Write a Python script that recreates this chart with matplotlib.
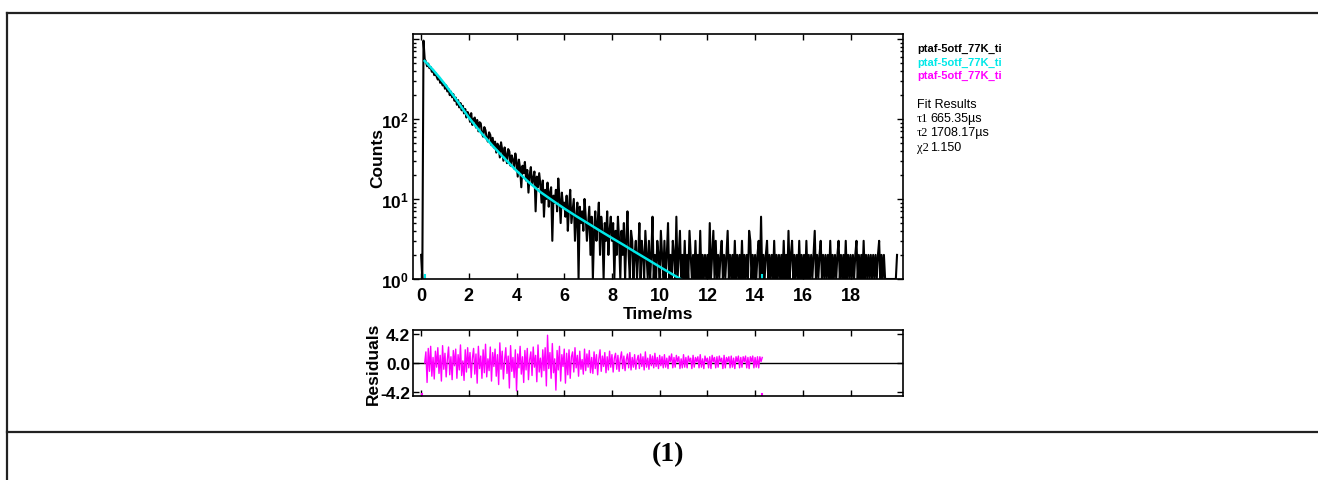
import numpy as np
import matplotlib
matplotlib.use("Agg")
from matplotlib import pyplot as plt
from matplotlib.lines import Line2D

plt.rcParams['font.family'] = ['Liberation Sans', 'DejaVu Sans']
plt.rcParams['mathtext.fontset'] = 'custom'
plt.rcParams['mathtext.rm'] = 'Liberation Sans:bold'
plt.rcParams['mathtext.default'] = 'rm'

# decay histogram, one bin every 0.05 ms (counts)
bin_width = 0.05
counts = [
    2, 1, 950, 560, 520, 455, 490, 430, 445, 388, 410, 352, 376, 338, 310, 334, 282, 300, 262, 279,
    238, 262, 220, 236, 198, 219, 186, 204, 168, 185, 150, 172, 139, 158, 128, 146, 117, 133, 104, 122,
    112, 92, 118, 84, 99, 104, 78, 97, 70, 91, 88, 66, 60, 79, 72, 57, 52, 68, 63, 47,
    58, 44, 52, 38, 49, 46, 33, 51, 41, 30, 44, 36, 28, 42, 39, 26, 35, 31, 24, 37,
    29, 19, 31, 24, 14, 26, 21, 29, 17, 23, 12, 20, 25, 15, 18, 22, 7, 19, 14, 21,
    15, 9, 17, 6, 13, 10, 16, 8, 12, 14, 3, 11, 9, 13, 7, 18, 10, 5, 12, 8,
    9, 6, 11, 4, 8, 13, 5, 7, 10, 3, 6, 9, 1, 8, 5, 7, 4, 10, 6, 3,
    5, 8, 2, 6, 1, 4, 7, 3, 5, 9, 2, 6, 4, 1, 5, 3, 7, 2, 4, 6,
    3, 5, 1, 4, 2, 6, 3, 1, 4, 2, 5, 1, 3, 7, 2, 1, 4, 3, 1, 2,
    3, 1, 2, 5, 1, 3, 2, 1, 4, 2, 1, 3, 1, 2, 6, 1, 2, 1, 3, 2,
    1, 4, 2, 1, 3, 1, 2, 5, 1, 2, 1, 3, 2, 1, 6, 1, 2, 4, 1, 2,
    1, 3, 1, 2, 1, 4, 2, 1, 2, 1, 3, 1, 2, 1, 4, 1, 2, 1, 2, 1,
    2, 1, 5, 1, 2, 4, 1, 3, 1, 2, 1, 2, 3, 1, 2, 1, 2, 4, 1, 2,
    1, 2, 1, 3, 1, 2, 1, 2, 1, 3, 1, 2, 1, 2, 1, 4, 3, 1, 2, 1,
    2, 1, 2, 3, 1, 6, 1, 2, 1, 2, 3, 1, 2, 1, 2, 1, 3, 1, 2, 1,
    2, 1, 2, 1, 3, 1, 2, 1, 4, 1, 2, 3, 1, 2, 1, 2, 1, 3, 1, 2,
    1, 2, 1, 3, 1, 2, 1, 2, 1, 2, 4, 1, 2, 1, 2, 3, 1, 2, 1, 2,
    1, 2, 1, 3, 1, 2, 1, 2, 1, 2, 3, 1, 2, 1, 2, 1, 3, 1, 2, 1,
    2, 1, 2, 1, 2, 3, 1, 2, 1, 2, 1, 3, 1, 2, 1, 2, 1, 2, 1, 2,
    1, 2, 1, 2, 3, 1, 2, 1, 2, 1, 1, 1, 1, 1, 1, 1, 1, 1, 1, 2,
]
time = np.arange(len(counts)) * bin_width

# fitted curve, points
fit_t = [0.15, 0.3, 0.5, 0.75, 1.0, 1.25, 1.5, 1.75, 2.0, 2.5, 3.0, 3.5, 4.0, 4.5, 5.0,
         5.5, 6.0, 6.5, 7.0, 7.5, 8.0, 8.5, 9.0, 9.5, 10.0, 10.5, 11.0]
fit_counts = [530, 475, 410, 335, 270, 215, 170, 133, 104, 68, 46, 32, 22.5, 16.3, 12.2,
              9.6, 7.6, 6.1, 4.95, 4.0, 3.25, 2.65, 2.15, 1.75, 1.42, 1.16, 0.95]
fit_range = [0.15, 14.3]

# weighted residuals from 0.15 ms, same bin width
res_start = 0.15
residuals = [
    0.0, 1.6, -2.8, 2.1, -1.2, 2.4, -1.9, 0.8, -2.3, 1.7, -0.6, 2.2, -1.5, 1.1, -2.6, 2.5, -0.9, 1.4, -2.0, 0.5,
    2.3, -1.7, 0.9, -2.4, 1.8, -0.4, 2.0, -2.2, 1.2, -1.0, 2.6, -1.8, 0.3, -2.5, 1.9, -1.3, 2.2, -0.7, 1.5, -2.1,
    0.7, 2.1, -1.6, 1.3, -2.9, 2.4, -0.8, 1.0, -2.2, 1.9, -1.4, 2.7, -2.0, 0.6, -1.1, 2.3, -2.6, 1.5, -0.5, 2.0,
    -1.9, 1.2, -3.1, 2.9, -0.9, 1.7, -2.3, 0.4, 2.2, -1.5, 1.0, -3.6, 2.5, -1.2, 0.8, -2.1, 1.9, -4.0, 1.3, -0.7,
    2.4, -1.6, 0.9, -2.8, 1.8, -1.0, 2.1, -2.4, 0.5, 1.6, -1.8, 2.3, -0.6, 1.1, -2.7, 2.6, -1.3, 0.7, -2.0, 1.9,
    -1.1, 2.2, -3.3, 4.0, -0.8, 1.5, -2.2, 2.8, -1.4, 0.6, -3.9, 1.8, -1.0, 2.4, -2.6, 1.2, -0.5, 2.0, -2.9, 1.4,
    -1.7, 1.9, -2.2, 0.9, 1.6, -1.3, 2.2, -0.7, 1.1, -1.9, 1.7, -0.9, 0.5, -1.6, 2.0, -1.1, 1.3, -0.6, 1.8, -1.4,
    0.8, -1.5, 1.6, -0.8, 1.2, -1.7, 0.6, 1.9, -1.2, 1.0, -0.5, 1.5, -1.4, 0.9, -1.0, 1.7, -0.6, 1.2, -1.3, 0.7,
    1.4, -0.9, 1.1, -1.2, 0.6, 1.6, -0.8, 1.0, -1.1, 0.5, 1.3, -0.7, 1.5, -1.0, 0.8, -0.6, 1.2, -0.9, 0.4, 1.1,
    -0.8, 1.3, -0.5, 0.9, -1.0, 1.6, -0.6, 0.7, -0.9, 1.2, -0.4, 1.0, -0.7, 1.4, -0.5, 0.8, -0.8, 1.1, -0.4, 0.9,
    -0.7, 1.2, -0.6, 0.7, -0.8, 1.0, 0.2, 1.3, -0.7, 0.8, -0.6, 1.1, 0.2, 0.9, -0.8, 0.6, -0.7, 1.2, -0.6, 0.8,
    -0.7, 1.0, 0.2, 0.7, -0.8, 1.1, -0.6, 0.8, 0.2, 0.9, -0.7, 1.2, -0.6, 0.6, -0.8, 1.0, 0.2, 0.7, -0.7, 0.9,
    -0.8, 1.1, 0.2, 0.8, -0.7, 0.9, -0.6, 1.0, 0.2, 0.7, -0.8, 1.1, -0.7, 0.8, 0.2, 0.9, -0.7, 1.0, -0.6, 0.7,
    -0.8, 0.9, 0.2, 1.0, -0.7, 0.8, -0.6, 0.9, 0.2, 1.0, -0.7, 0.8, -0.8, 0.9, 0.2, 1.0, -0.7, 0.8, -0.6, 0.9,
    -0.7, 0.9, 0.2, 0.8,
]
res_t = res_start + np.arange(len(residuals)) * bin_width

x_ticks = [0, 2, 4, 6, 8, 10, 12, 14, 16, 18]
y_ticks = [1, 10, 100, 1000]
y_ticklabels = [r'$10^{0}$', r'$10^{1}$', r'$10^{2}$', '']
res_ticks = [-4.2, 0.0, 4.2]
res_ticklabels = ['-4.2', '0.0', '4.2']

legend_names = ['ptaf-5otf_77K_ti', 'ptaf-5otf_77K_ti', 'ptaf-5otf_77K_ti']
legend_colors = ['black', '#00e8e8', '#ff00ff']
fit_symbols = ['\u03c41', '\u03c42', '\u03c72']
fit_values = ['665.35\u00b5s', '1708.17\u00b5s', '1.150']

W, H = 1318, 481
fig = plt.figure(figsize=(W / 100, H / 100), dpi=100)

def fx(px):
    return px / W

def fy(py):
    return 1 - py / H

ax = fig.add_axes([fx(413), fy(280), fx(903) - fx(413), fy(35) - fy(280)])
ax2 = fig.add_axes([fx(413), fy(397), fx(903) - fx(413), fy(331) - fy(397)])

ax.plot(time, counts, color='black', lw=1.5)
ax.plot(fit_t, fit_counts, color=legend_colors[1], lw=1.8)
for r in fit_range:
    ax.axvline(r, ymin=0, ymax=0.015, color=legend_colors[1], lw=1.5)
ax.set_yscale('log')
ax.set_xlim(-0.34, 20.2)
ax.set_ylim(1, 1150)
ax.set_xticks(x_ticks)
ax.set_xticklabels([str(v) for v in x_ticks])
ax.set_yticks(y_ticks)
ax.set_yticklabels(y_ticklabels)
ax.tick_params(which='both', direction='in', top=True, right=True, width=1)
ax.tick_params(which='major', length=4, labelsize=12.5, pad=3)
ax.tick_params(axis='x', which='major', labelsize=13, pad=6)
ax.tick_params(which='minor', length=2.5)
ax.set_xlabel('Time/ms', fontsize=12.5, fontweight='bold', labelpad=1)
ax.set_ylabel('Counts', fontsize=12.5, fontweight='bold')
ax.yaxis.set_label_coords(-0.057, 0.5)

ax2.axhline(0, color='black', lw=1)
ax2.plot(res_t, residuals, color=legend_colors[2], lw=1)
for r in [0.05, 14.3]:
    ax2.axvline(r, ymin=0, ymax=0.03, color=legend_colors[2], lw=1.5)
ax2.set_xlim(-0.34, 20.2)
ax2.set_ylim(-4.75, 4.75)
ax2.set_xticks(x_ticks)
ax2.set_xticklabels([])
ax2.set_yticks(res_ticks)
ax2.set_yticklabels(res_ticklabels)
ax2.tick_params(which='both', direction='in', top=True, right=True, width=1, length=4,
                labelsize=12.5, pad=2)
ax2.set_ylabel('Residuals', fontsize=12.5, fontweight='bold')
ax2.yaxis.set_label_coords(-0.066, 0.5)

for a in (ax, ax2):
    for lab in a.get_xticklabels() + a.get_yticklabels():
        lab.set_fontweight('bold')
    for s in a.spines.values():
        s.set_linewidth(1.2)

# legend and fit results at the right of the plot
for i, (name, c) in enumerate(zip(legend_names, legend_colors)):
    fig.text(fx(917), fy(49 + 13.5 * i), name, color=c, fontsize=8, fontweight='bold',
             va='center', ha='left')
fig.text(fx(917), fy(105), 'Fit Results', fontsize=9, va='center', ha='left')
for i, (sym, val) in enumerate(zip(fit_symbols, fit_values)):
    fig.text(fx(917), fy(119 + 14.5 * i), sym, fontsize=9, family='Liberation Serif',
             va='center', ha='left')
    fig.text(fx(930), fy(119 + 14.5 * i), val, fontsize=9, va='center', ha='left')

# table frame around the figure and caption
frame_kw = dict(color='#222222', lw=1.6, transform=fig.transFigure)
fig.add_artist(Line2D([fx(7), 1], [fy(14), fy(14)], **frame_kw))
fig.add_artist(Line2D([fx(7), fx(7)], [0, fy(14)], **frame_kw))
fig.add_artist(Line2D([fx(7), 1], [fy(433), fy(433)], **frame_kw))
fig.text(fx(668), fy(455), '(1)', fontsize=20, fontweight='bold', family='Liberation Serif',
         ha='center', va='center')

fig.savefig('out.png', dpi=100)
